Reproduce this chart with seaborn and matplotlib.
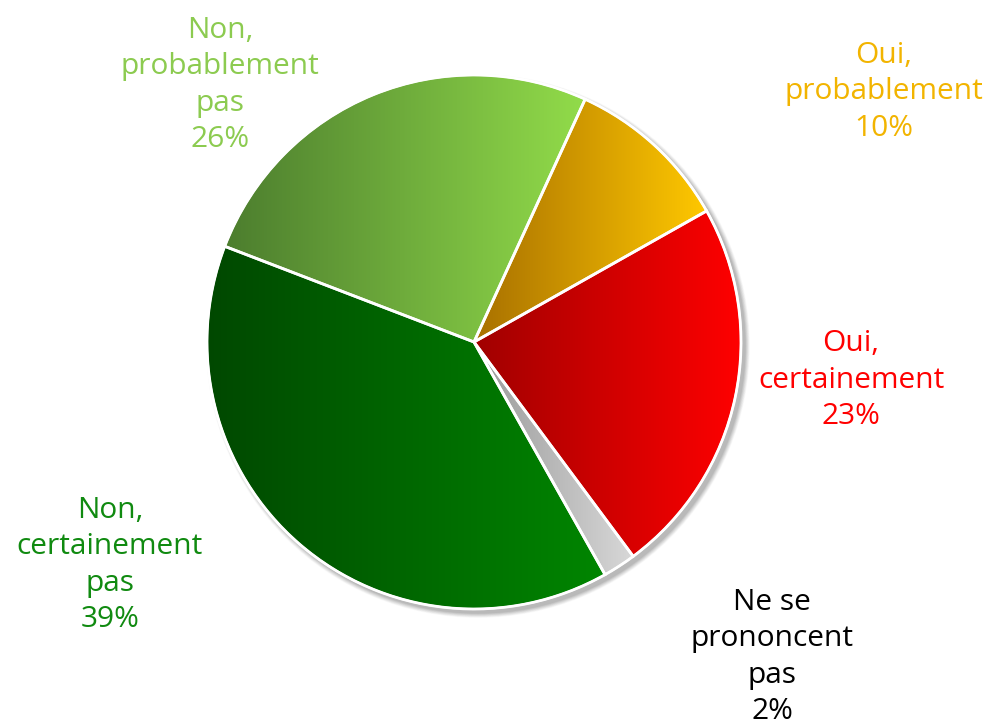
import numpy as np
import seaborn as sns
import matplotlib.pyplot as plt
from matplotlib.patches import Circle

sns.set_theme(style="white")
plt.rcParams['font.family'] = ['Open Sans', 'DejaVu Sans']

# data, clockwise from the top
labels = ['Oui,\nprobablement', 'Oui,\ncertainement', 'Ne se\nprononcent\npas',
          'Non,\ncertainement\npas', 'Non,\nprobablement\npas']
values = [10, 23, 2, 39, 26]
dark = ['#a87000', '#a00000', '#999999', '#004800', '#4c7d2e']
light = ['#ffc800', '#ff0000', '#d8d8d8', '#008600', '#92dc4a']
text_colors = ['#f2b400', '#ff0000', '#000000', '#108a10', '#8ccb50']
label_pos = [(884, 636), (851, 348), (772, 71), (110, 163), (220, 643)]

fig = plt.figure(figsize=(9.89, 7.28), dpi=100)
ax = fig.add_axes([0, 0, 1, 1])

cx, cy, r = 474, 386, 267

# soft shadow
for k, a in zip(range(8, 0, -1), [0.05, 0.06, 0.07, 0.08, 0.09, 0.1, 0.12, 0.15]):
    ax.add_patch(Circle((cx + 4, cy - 4), r + k * 0.6, color='#808080', alpha=a, lw=0, zorder=0))

wedges, _ = ax.pie(values, center=(cx, cy), radius=r, startangle=65.4, counterclock=False,
                   wedgeprops=dict(edgecolor='white', linewidth=2, facecolor='none'),
                   frame=True)
ax.set_xlim(0, 989)
ax.set_ylim(0, 728)
ax.set_aspect('equal')
ax.axis('off')

grad = np.linspace(0, 1, 256).reshape(1, -1)
for w, d, l in zip(wedges, dark, light):
    w.set_zorder(3)
    ext = w.get_path().get_extents()
    cmap = sns.blend_palette([d, l], as_cmap=True)
    im = ax.imshow(grad, cmap=cmap, extent=[ext.x0, ext.x1, ext.y0, ext.y1],
                   aspect='auto', zorder=2, interpolation='bilinear')
    im.set_clip_path(w)

ax.add_patch(Circle((cx, cy), r, fill=False, edgecolor='white', lw=1.5, zorder=4))

for lab, v, c, (x, y) in zip(labels, values, text_colors, label_pos):
    ax.text(x, y, f'{lab}\n{v}%', color=c, ha='center', va='center',
            fontsize=21.5, linespacing=1.33)

fig.savefig('out.png', dpi=100)
